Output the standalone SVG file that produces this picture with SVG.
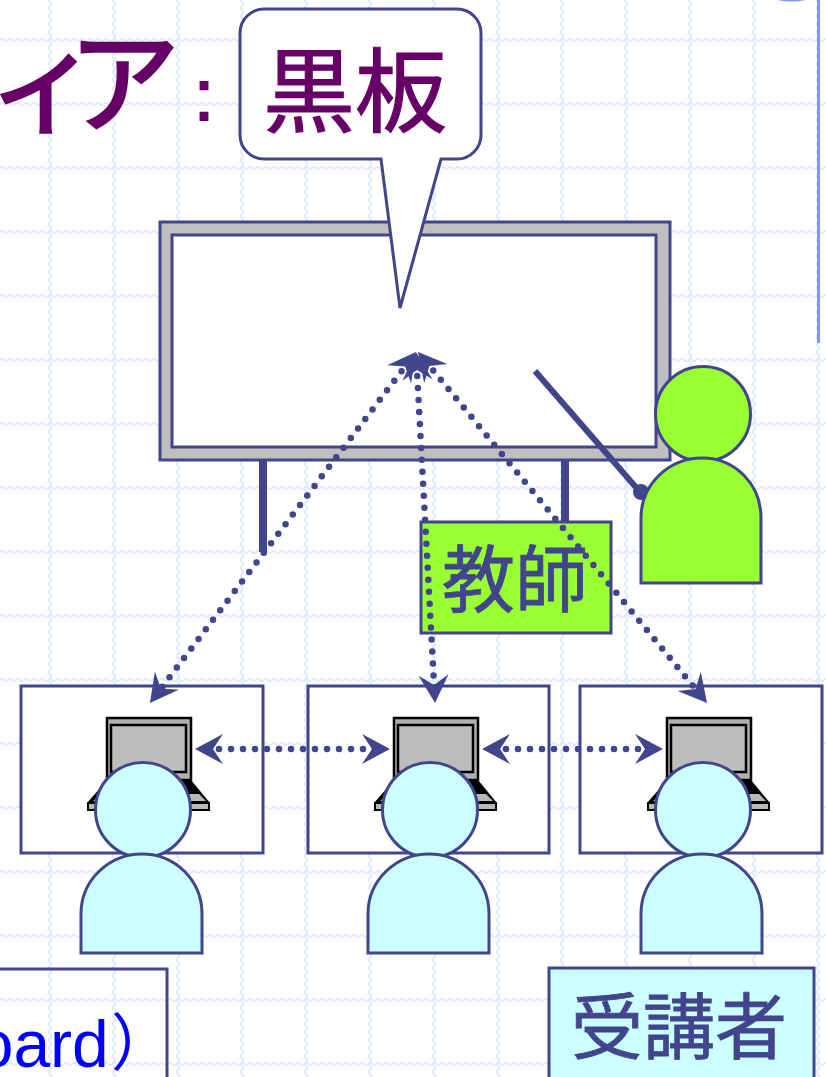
<svg xmlns="http://www.w3.org/2000/svg" width="826" height="1077" viewBox="0 0 826 1077">
<style>
.ln{stroke:#41458c;stroke-width:3}
.jp{font-family:"Noto Sans CJK JP","Noto Sans",sans-serif}
.cx{stroke:#41458c;stroke-width:6.5;fill:none;stroke-dasharray:0 12;stroke-linecap:round}
.lb{fill:#41458c;stroke:#41458c;stroke-width:.8;text-anchor:middle}
.tt{fill:#660066;stroke:#660066}
</style>
<defs>
<pattern id="grid" patternUnits="userSpaceOnUse" x="48" y="38" width="64" height="64">
<path d="M0 2q2-2.6 4 0t4 0 4 0 4 0 4 0 4 0 4 0 4 0 4 0 4 0 4 0 4 0 4 0 4 0 4 0 4 0" fill="none" stroke="#e0e8fc" stroke-width="2"/>
<path d="M2 0q-2.6 2 0 4t0 4 0 4 0 4 0 4 0 4 0 4 0 4 0 4 0 4 0 4 0 4 0 4 0 4 0 4 0 4" fill="none" stroke="#e0e8fc" stroke-width="2"/>
</pattern>
<marker id="ah" markerUnits="userSpaceOnUse" markerWidth="32" markerHeight="32" refX="18" refY="16" orient="auto-start-reverse" viewBox="0 0 32 32">
<path d="M30 16L2 1 12 16 2 31Z" fill="#41458c"/>
</marker>
<g id="laptop">
<path d="M-56-7L-36-30H48L67-7Z" fill="#000"/>
<path d="M-50-9L-42-16H56L63-9Z" fill="#b8b8b8"/>
<rect x="-55" y="-7" width="121" height="7" fill="#b8b8b8" stroke="#000" stroke-width="2"/>
<rect x="-36" y="-92" width="84" height="62" fill="#b0b0b0" stroke="#000" stroke-width="2.5"/>
<rect x="-32" y="-85" width="75" height="47" fill="#bdbdbd" stroke="#000" stroke-width="2.5"/>
</g>
<circle id="head" cx="0" cy="0" r="47.5" class="ln"/>
<path id="torso" d="M-62 143V104C-62 70-34 44 -1 44S59 70 59 104V143Z" class="ln"/>
</defs>
<rect width="826" height="1077" fill="#fff"/>
<rect width="826" height="1077" fill="url(#grid)"/>

<g id="side-rule">
<rect x="817" y="0" width="3" height="343" fill="#7c96f2"/>
<path d="M777 0Q791 3 806 0Z" fill="#7c96f2"/>
</g>

<g id="title">
<text x="-12 68" y="124" class="jp tt" font-size="112" stroke-width="2.5">ィア</text>
<text x="204" y="120" font-family="'Liberation Sans',sans-serif" class="tt" stroke-width="2" font-size="72" text-anchor="middle">:</text>
</g>

<g id="board">
<rect x="259" y="460" width="8" height="92" fill="#41458c"/>
<rect x="561" y="460" width="8" height="62" fill="#41458c"/>
<rect x="160" y="222" width="510" height="238" fill="#bfbfbf" class="ln"/>
<rect x="172" y="235" width="484" height="212" fill="#fff" class="ln"/>
</g>

<g id="callout">
<path d="M264 9H457A24 24 0 0 1 481 33V135A24 24 0 0 1 457 159H441L400 308 381 159H264A24 24 0 0 1 240 135V33A24 24 0 0 1 264 9Z" fill="#fff" class="ln"/>
<text x="355" y="125" class="jp tt" stroke-width="1.2" font-size="92" text-anchor="middle">黒板</text>
</g>

<g id="monitor-1">
<rect x="21" y="686" width="242" height="167" fill="#fff" class="ln"/>
<use href="#laptop" x="143" y="810"/>
</g>
<g id="monitor-2">
<rect x="308" y="686" width="241" height="167" fill="#fff" class="ln"/>
<use href="#laptop" x="430" y="810"/>
</g>
<g id="monitor-3">
<rect x="580" y="686" width="242" height="167" fill="#fff" class="ln"/>
<use href="#laptop" x="703" y="810"/>
</g>

<g id="teacher">
<path d="M535 371L640 492" stroke="#41458c" stroke-width="6" fill="none"/>
<circle cx="641" cy="492" r="8" fill="#41458c"/>
<use href="#head" x="703" y="414" fill="#99ff33"/>
<path d="M641 583V518C641 484 669 458 702 458S761 484 761 518V583Z" class="ln" fill="#99ff33"/>
</g>
<g id="teacher-label">
<rect x="421" y="522" width="190" height="111" fill="#99ff33" class="ln"/>
<text x="515" y="606" class="jp lb" font-size="73">教師</text>
</g>

<g id="student-1">
<use href="#head" x="143" y="810" fill="#ccffff"/>
<use href="#torso" x="143" y="810" fill="#ccffff"/>
</g>
<g id="student-2">
<use href="#head" x="430" y="810" fill="#ccffff"/>
<use href="#torso" x="430" y="810" fill="#ccffff"/>
</g>
<g id="student-3">
<use href="#head" x="703" y="810" fill="#ccffff"/>
<use href="#torso" x="703" y="810" fill="#ccffff"/>
</g>

<g id="connectors">
<path class="cx" d="M408.8 361.6L157.2 693.4" marker-start="url(#ah)" marker-end="url(#ah)"/>
<path class="cx" d="M416.6 364L434.4 691" marker-start="url(#ah)" marker-end="url(#ah)"/>
<path class="cx" d="M425.6 361.3L699.4 693.7" marker-start="url(#ah)" marker-end="url(#ah)"/>
<path class="cx" d="M207 749H378" marker-start="url(#ah)" marker-end="url(#ah)"/>
<path class="cx" d="M494 749H651" marker-start="url(#ah)" marker-end="url(#ah)"/>
</g>

<g id="legend-board">
<rect x="-5" y="969" width="172" height="120" fill="none" class="ln"/>
<text y="1067" fill="#0000ff" font-family="'Liberation Sans',sans-serif" font-size="66"><tspan x="-60">board</tspan><tspan x="111" y="1066" class="jp" font-size="62">）</tspan></text>
</g>
<g id="legend-students">
<rect x="549" y="968" width="265" height="120" fill="#ccffff" class="ln"/>
<text x="679" y="1053" class="jp lb" font-size="72">受講者</text>
</g>
</svg>
